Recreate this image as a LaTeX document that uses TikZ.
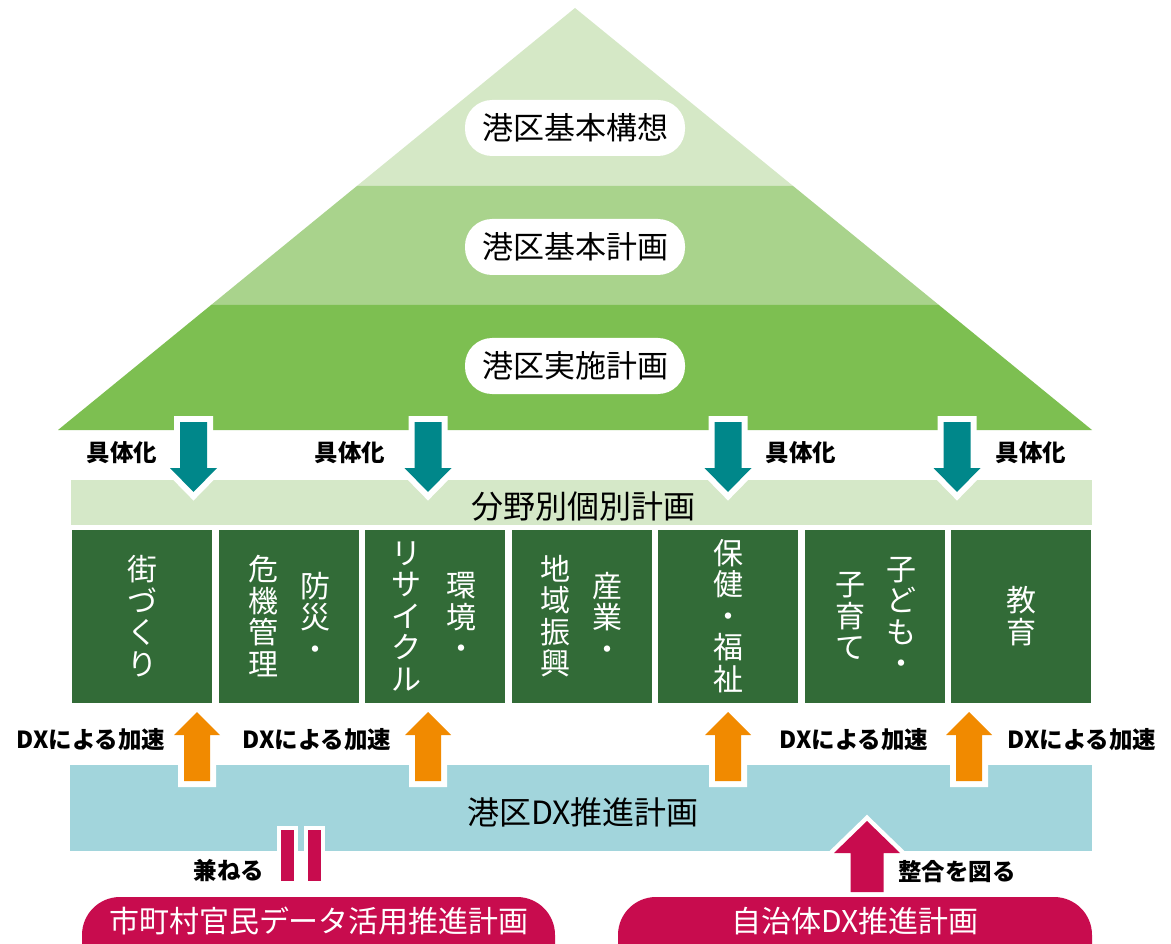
\documentclass[tikz,border=0pt]{standalone}
\usepackage{fontspec}
\setmainfont{Noto Sans CJK JP}
\definecolor{layA}{HTML}{D5E8C6}
\definecolor{layB}{HTML}{A9D38C}
\definecolor{layC}{HTML}{7DBF51}
\definecolor{bandG}{HTML}{D5E8C8}
\definecolor{dkG}{HTML}{326B37}
\definecolor{tealC}{HTML}{00878A}
\definecolor{oranC}{HTML}{F18A00}
\definecolor{blueC}{HTML}{A2D5DC}
\definecolor{pinkC}{HTML}{C80C4E}
\tikzset{
  pill/.style={fill=white, rounded corners=27, minimum width=220, minimum height=56, inner sep=0, font=\fontsize{31}{31}\selectfont},
  big/.style={inner sep=0, font=\fontsize{32}{32}\selectfont},
  vtext/.style={text=white, align=center, inner sep=0, font=\fontsize{30}{31.5}\selectfont},
  lbl/.style={inner sep=0, font=\fontsize{23.5}{24}\selectfont\bfseries},
  wtxt/.style={text=white, inner sep=0, font=\fontsize{30}{30}\selectfont},
  outl/.style={preaction={draw=white, line width=#1, line join=miter}},
  dnarrow/.pic={\fill[tealC, outl=12] (-13.5,0) -- (13.5,0) -- (13.5,46) -- (23.5,46) -- (0,70) -- (-23.5,46) -- (-13.5,46) -- cycle;},
  uparrow/.pic={\fill[oranC, outl=12] (0,0) -- (23,23) -- (13,23) -- (13,69) -- (-13,69) -- (-13,23) -- (-23,23) -- cycle;},
  pkarrow/.pic={\fill[pinkC, outl=9] (0,0) -- (33,32) -- (16.5,32) -- (16.5,71) -- (-16.5,71) -- (-16.5,32) -- (-33,32) -- cycle;}
}
\begin{document}
\begin{tikzpicture}[x=1pt,y=-1pt]
\clip (0,0) rectangle (1171,944);
\fill[white] (0,0) rectangle (1171,944);
% pyramid
\fill[layA] (575,8) -- (793.1,186) -- (356.9,186) -- cycle;
\fill[layB] (356.9,186) -- (793.1,186) -- (938.9,305) -- (211.1,305) -- cycle;
\fill[layC] (211.1,305) -- (938.9,305) -- (1092,430) -- (58,430) -- cycle;
\node[pill] (kousou) at (575,128) {港区基本構想};
\node[pill] (kihon) at (575,247) {港区基本計画};
\node[pill] (jisshi) at (575,366) {港区実施計画};
% sector band
\fill[bandG] (71,480) rectangle (1092,525);
\node[big] (bunya) at (583,506) {分野別個別計画};
% sector boxes
\foreach \i in {0,...,6} \fill[dkG] ({72+146.5*\i},530) rectangle ++(140,173);
\node[vtext] (machi) at (142,616) {街\\づ\\く\\り};
\node[vtext] (bousai) at (315,616) {防\\災\\・};
\node[vtext] (kiki) at (263,616) {危\\機\\管\\理};
\node[vtext] (kankyo) at (461,616) {環\\境\\・};
\node[vtext] (recycle) at (406,616) {リ\\サ\\イ\\ク\\ル};
\node[vtext] (sangyo) at (607,616) {産\\業\\・};
\node[vtext] (chiiki) at (555,616) {地\\域\\振\\興};
\node[vtext] (hoken) at (728,616) {保\\健\\・\\福\\祉};
\node[vtext] (kodomo) at (901,616) {子\\ど\\も\\・};
\node[vtext] (kosodate) at (850,616) {子\\育\\て};
\node[vtext] (kyoiku) at (1021,616) {教\\育};
% DX band
\fill[blueC] (70,765) rectangle (1092,851);
\node[big] (dxplan) at (583,812) {港区DX推進計画};
% down arrows
\pic (d1) at (193.5,422) {dnarrow};
\pic (d2) at (428,422) {dnarrow};
\pic (d3) at (728,422) {dnarrow};
\pic (d4) at (957,422) {dnarrow};
\node[lbl] (g1) at (122,453) {具体化};
\node[lbl] (g2) at (350,453) {具体化};
\node[lbl] (g3) at (801,453) {具体化};
\node[lbl] (g4) at (1031,453) {具体化};
% up arrows
\pic (u1) at (197,712) {uparrow};
\pic (u2) at (428,712) {uparrow};
\pic (u3) at (728,712) {uparrow};
\pic (u4) at (969,712) {uparrow};
\node[lbl] (x1) at (91,740) {DXによる加速};
\node[lbl] (x2) at (317,740) {DXによる加速};
\node[lbl] (x3) at (854,740) {DXによる加速};
\node[lbl] (x4) at (1082,740) {DXによる加速};
% equals bars
\fill[pinkC, outl=8] (281,830) rectangle (294,881);
\fill[pinkC, outl=8] (308,830) rectangle (321,881);
\node[lbl] (kaneru) at (229,871) {兼ねる};
% pink arrow
\pic (p1) at (867,821) {pkarrow};
\node[lbl] (seigo) at (957,872) {整合を図る};
% bottom boxes
\fill[pinkC, rounded corners=38] (82,897) rectangle (555,1000);
\node[wtxt] (shichoson) at (319,921) {市町村官民データ活用推進計画};
\fill[pinkC, rounded corners=38] (618,897) rectangle (1092,1000);
\node[wtxt] (jichitai) at (855,921) {自治体DX推進計画};
\end{tikzpicture}
\end{document}
